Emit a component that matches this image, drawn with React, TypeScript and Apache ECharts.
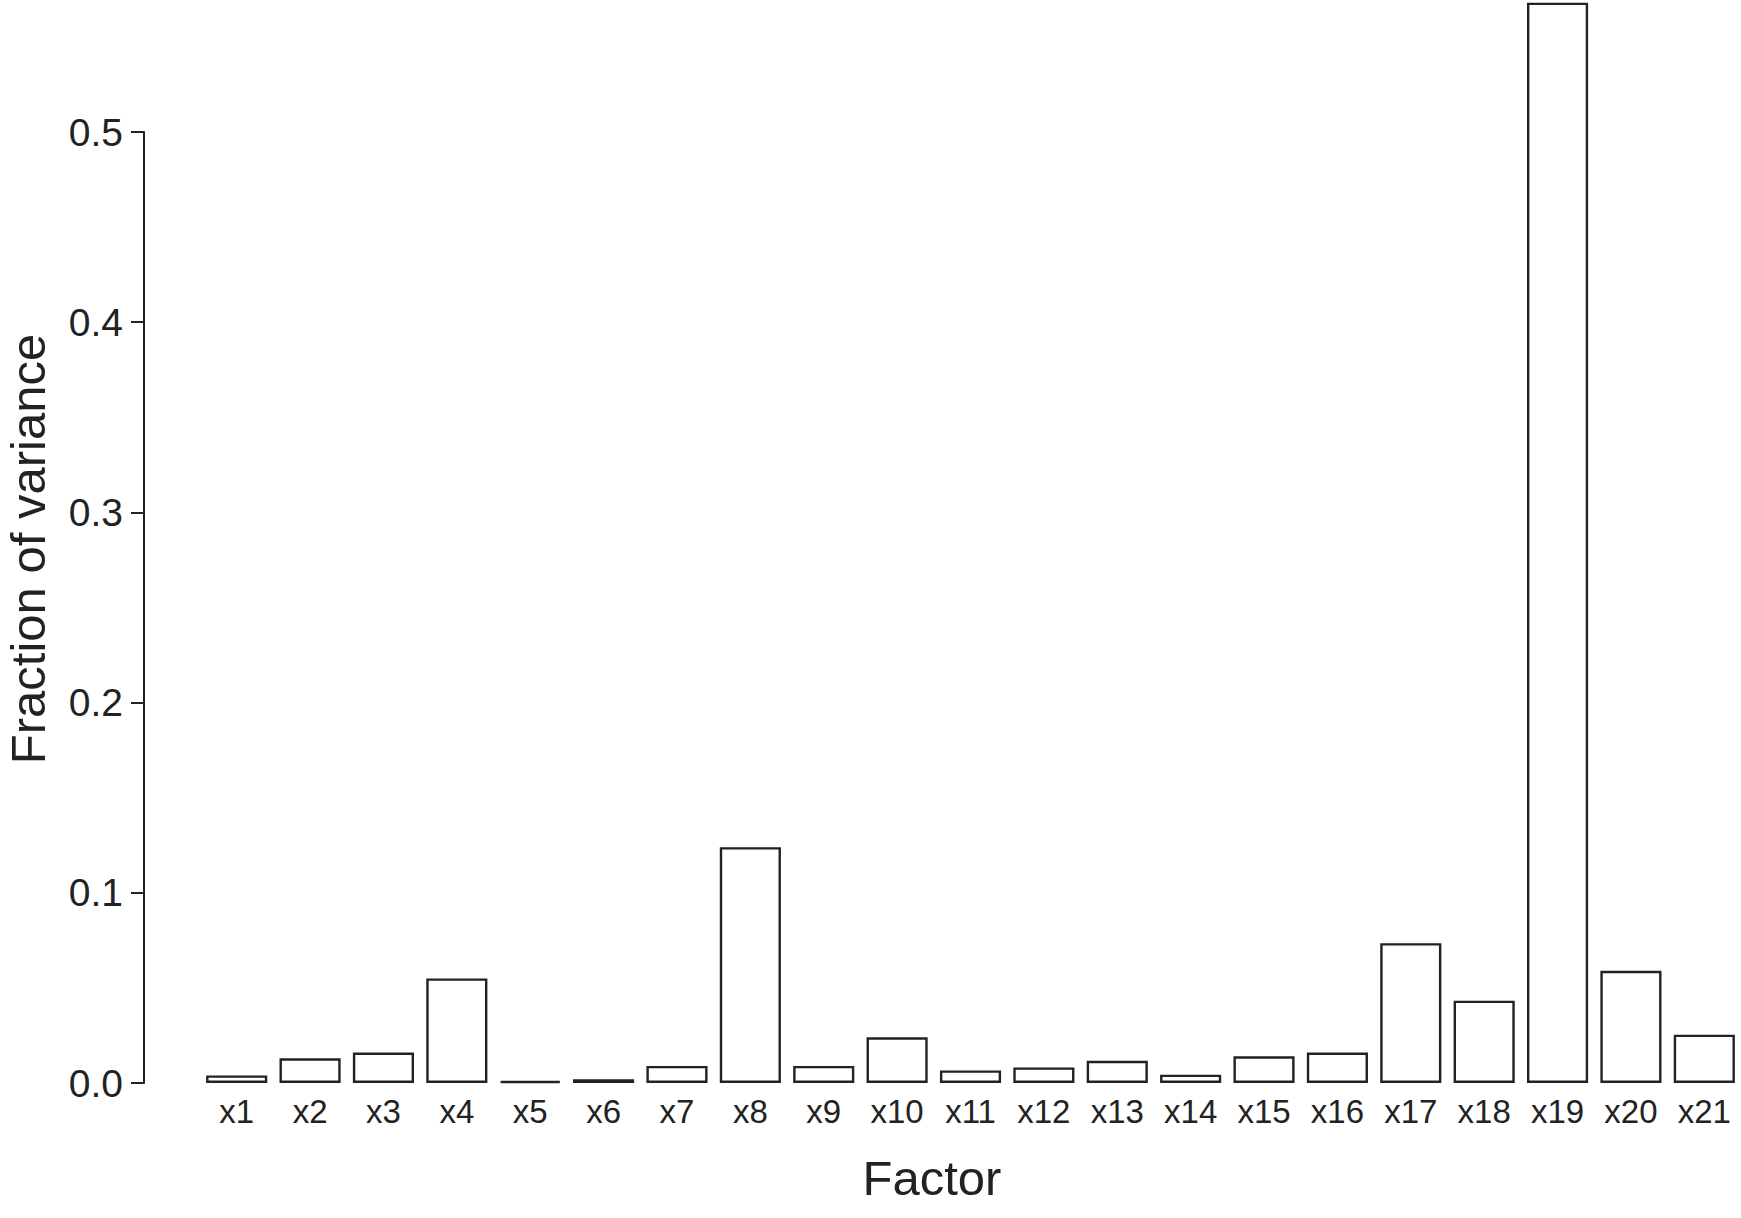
import React, { useEffect, useRef } from "react";
import * as echarts from "echarts";

const categories = [
  "x1", "x2", "x3", "x4", "x5", "x6", "x7", "x8", "x9", "x10", "x11",
  "x12", "x13", "x14", "x15", "x16", "x17", "x18", "x19", "x20", "x21",
];
const fractionOfVariance = [
  0.004, 0.013, 0.016, 0.055, 0.001, 0.002, 0.009, 0.124, 0.009, 0.024, 0.0066,
  0.0082, 0.0117, 0.0044, 0.014, 0.016, 0.0735, 0.0433, 0.568, 0.059, 0.0254,
];
const yTicks = [0, 0.1, 0.2, 0.3, 0.4, 0.5];
const xTitle = "Factor";
const yTitle = "Fraction of variance";

const FONT = "'Liberation Sans', Arial, Helvetica, sans-serif";
const INK = "#222";

export default function App() {
  const ref = useRef<HTMLDivElement>(null);
  useEffect(() => {
    if (!ref.current) return;
    const chart = echarts.init(ref.current, null, { renderer: "svg" });
    chart.setOption({
      animation: false,
      backgroundColor: "#fff",
      textStyle: { fontFamily: FONT, color: INK },
      grid: { left: 200, top: 132, width: 1542, height: 951, containLabel: false },
      xAxis: {
        type: "category",
        data: categories,
        axisLine: { show: false },
        axisTick: { show: false },
        splitLine: { show: false },
        axisLabel: {
          interval: 0,
          fontSize: 33,
          margin: 12,
          color: INK,
          fontFamily: FONT,
        },
      },
      yAxis: {
        type: "value",
        min: yTicks[0],
        max: yTicks[yTicks.length - 1],
        interval: 0.1,
        offset: 56,
        splitLine: { show: false },
        axisLine: { show: true, lineStyle: { color: INK, width: 2 } },
        axisTick: { show: true, length: 13, lineStyle: { color: INK, width: 2 } },
        axisLabel: {
          fontSize: 39,
          margin: 21,
          color: INK,
          fontFamily: FONT,
          formatter: (v: number) => v.toFixed(1),
        },
      },
      graphic: [
        {
          type: "text",
          x: 28,
          y: 549,
          rotation: Math.PI / 2,
          style: {
            text: yTitle,
            fontSize: 49,
            fontFamily: FONT,
            fill: INK,
            textAlign: "center",
            textVerticalAlign: "middle",
          },
        },
        {
          type: "text",
          x: 932,
          y: 1178,
          style: {
            text: xTitle,
            fontSize: 49,
            fontFamily: FONT,
            fill: INK,
            textAlign: "center",
            textVerticalAlign: "middle",
          },
        },
      ],
      series: [
        {
          type: "bar",
          data: fractionOfVariance,
          barCategoryGap: "16.7%",
          clip: false,
          itemStyle: { color: "#fff", borderColor: INK, borderWidth: 2.4 },
          emphasis: { disabled: true },
        },
      ],
    });
    return () => chart.dispose();
  }, []);
  return (
    <div
      ref={ref}
      style={{ position: "absolute", left: 0, top: 0, width: 1741, height: 1218 }}
    />
  );
}
